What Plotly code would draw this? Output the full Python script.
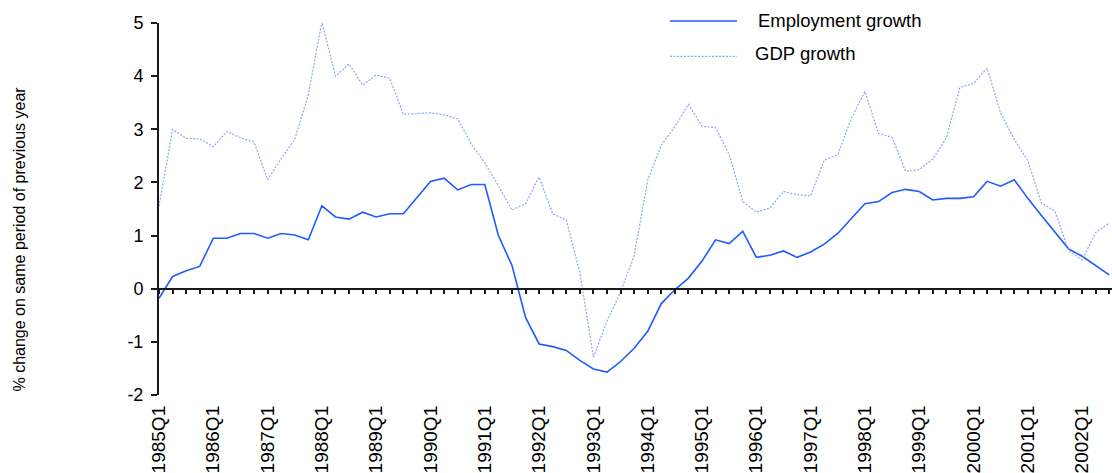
import plotly.graph_objects as go

# ---- data ----
quarters = [f"{y}Q{q}" for y in range(1985, 2003) for q in range(1, 5)][:71]
tick_labels = [q for q in quarters if q.endswith("Q1")]
y_ticks = [-2, -1, 0, 1, 2, 3, 4, 5]
y_tick_text = ["-2", "-1", "0", "1", "2", "3", "4", "5"]

employment_growth = [
    -0.18, 0.23, 0.34, 0.42, 0.95, 0.95, 1.04, 1.04, 0.95, 1.04,
    1.01, 0.92, 1.56, 1.35, 1.31, 1.44, 1.35, 1.41, 1.41, 1.71,
    2.02, 2.08, 1.86, 1.96, 1.96, 1.00, 0.44, -0.54, -1.04, -1.09,
    -1.16, -1.35, -1.51, -1.57, -1.37, -1.12, -0.80, -0.28, -0.02, 0.20,
    0.52, 0.92, 0.85, 1.08, 0.59, 0.63, 0.71, 0.59, 0.69, 0.84,
    1.04, 1.32, 1.60, 1.64, 1.81, 1.87, 1.83, 1.67, 1.70, 1.70,
    1.73, 2.02, 1.93, 2.05, 1.70, 1.38, 1.06, 0.75, 0.61, 0.44,
    0.26,
]
gdp_growth = [
    1.55, 3.00, 2.83, 2.82, 2.67, 2.96, 2.84, 2.76, 2.05, 2.45,
    2.81, 3.65, 5.02, 4.00, 4.23, 3.83, 4.02, 3.96, 3.28, 3.30,
    3.31, 3.27, 3.20, 2.72, 2.37, 1.94, 1.48, 1.60, 2.10, 1.41,
    1.29, 0.31, -1.29, -0.61, -0.06, 0.62, 2.04, 2.70, 3.05, 3.47,
    3.06, 3.03, 2.53, 1.64, 1.44, 1.52, 1.83, 1.77, 1.75, 2.42,
    2.52, 3.21, 3.71, 2.92, 2.85, 2.21, 2.24, 2.44, 2.84, 3.79,
    3.86, 4.15, 3.30, 2.81, 2.41, 1.61, 1.46, 0.72, 0.54, 1.06,
    1.24,
]

EMP_COLOR = "#1f5bff"
GDP_COLOR = "#8aa6f7"
AXIS_COLOR = "#1a1a1a"
FONT = "Liberation Sans, Arial, sans-serif"

W, H = 1112, 473
ML, MR, MT, MB = 159, 0, 23, 72
PW, PH = W - ML - MR, H - MT - MB
YMIN, YMAX = -2, 5
XRANGE = [0, 70.2]


def px_x(p):
    return (p - ML) / PW


def px_y(p):
    return (H - MB - p) / PH


fig = go.Figure()
fig.add_trace(go.Scatter(
    x=quarters, y=employment_growth, mode="lines", name="Employment growth",
    line=dict(color=EMP_COLOR, width=1.6), xaxis="x", yaxis="y", showlegend=False,
))
fig.add_trace(go.Scatter(
    x=quarters, y=gdp_growth, mode="lines", name="GDP growth",
    line=dict(color=GDP_COLOR, width=1.2, dash="2px,1.5px"), xaxis="x2", yaxis="y",
    showlegend=False,
))

fig.update_layout(
    width=W, height=H, autosize=False,
    margin=dict(l=ML, r=MR, t=MT, b=MB, pad=0),
    paper_bgcolor="white", plot_bgcolor="white",
    font=dict(family=FONT, color="#000000"),
    showlegend=False,
    xaxis=dict(
        type="category", categoryorder="array", categoryarray=quarters,
        range=XRANGE, tickmode="array", tickvals=tick_labels, ticktext=tick_labels,
        tickangle=-90, showline=False, ticks="", showgrid=False, zeroline=False,
        tickfont=dict(size=19, family=FONT, color="#000000"), ticklabelstandoff=6,
    ),
    xaxis2=dict(
        type="category", categoryorder="array", categoryarray=quarters,
        range=XRANGE, overlaying="x", anchor="free", position=(0 - YMIN) / (YMAX - YMIN),
        side="bottom", showline=True, linecolor=AXIS_COLOR, linewidth=1.5,
        ticks="outside", ticklen=5, tickwidth=1.5, tickcolor=AXIS_COLOR,
        tickmode="array", tickvals=quarters, showticklabels=False,
        showgrid=False, zeroline=False,
    ),
    yaxis=dict(
        range=[YMIN, YMAX], tickmode="array", tickvals=y_ticks, ticktext=y_tick_text,
        showline=True, linecolor=AXIS_COLOR, linewidth=2,
        ticks="outside", ticklen=6, tickwidth=1.5, tickcolor=AXIS_COLOR,
        showgrid=False, zeroline=False, ticklabelstandoff=4,
        tickfont=dict(size=18, family=FONT, color="#000000"),
    ),
)

# y-axis title
fig.add_annotation(
    text="% change on same period of previous year", textangle=-90,
    xref="paper", yref="paper", x=px_x(20), y=px_y(243),
    xanchor="center", yanchor="middle", showarrow=False,
    font=dict(size=16, family=FONT, color="#000000"),
)

# legend (drawn manually to match long line samples)
fig.add_shape(type="line", xref="paper", yref="paper",
              x0=px_x(670), x1=px_x(737), y0=px_y(21), y1=px_y(21),
              line=dict(color=EMP_COLOR, width=1.6))
fig.add_shape(type="line", xref="paper", yref="paper",
              x0=px_x(670), x1=px_x(737), y0=px_y(57), y1=px_y(57),
              line=dict(color=GDP_COLOR, width=1.2, dash="2px,1.5px"))
fig.add_annotation(text="Employment growth", xref="paper", yref="paper",
                   x=px_x(756), y=px_y(20), xanchor="left", yanchor="middle",
                   showarrow=False, font=dict(size=18.5, family=FONT, color="#000000"))
fig.add_annotation(text="GDP growth", xref="paper", yref="paper",
                   x=px_x(753), y=px_y(54), xanchor="left", yanchor="middle",
                   showarrow=False, font=dict(size=18.5, family=FONT, color="#000000"))

fig.write_html("out.html", config={"displayModeBar": False},
               post_script="document.body.style.margin='0';")
